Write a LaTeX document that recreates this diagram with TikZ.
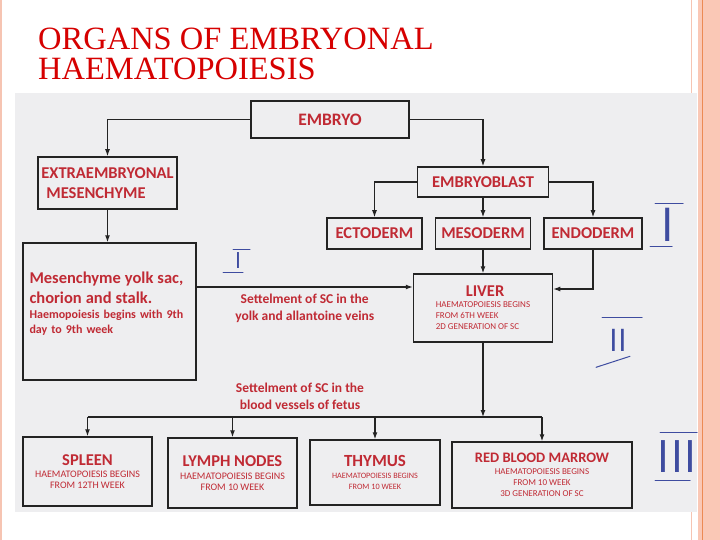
\documentclass[tikz,border=0pt]{standalone}
\usepackage{fontspec}
\setmainfont{Carlito}
\newfontfamily\slidefont{Liberation Serif}
\usetikzlibrary{positioning, calc, arrows.meta}

\definecolor{scanred}{RGB}{192,42,52}
\definecolor{titlered}{RGB}{214,0,0}
\definecolor{inkblue}{RGB}{62,76,160}
\definecolor{scangray}{RGB}{238,238,240}
\definecolor{framepink}{RGB}{246,196,178}
\definecolor{bandpink}{RGB}{250,200,182}
\definecolor{bandorange}{RGB}{236,138,84}
\definecolor{linegray}{RGB}{35,35,35}

\newcommand{\organfont}{\fontsize{16.5}{20}\selectfont\bfseries}
\newcommand{\notefont}{\fontsize{9}{11}\selectfont}
\newcommand{\remarkfont}{\fontsize{13.5}{17.5}\selectfont\bfseries}
\newcommand{\stalkfont}{\fontsize{12}{15}\selectfont\bfseries}
\newcommand{\numeralfont}[1]{\sffamily\fontsize{#1}{#1}\selectfont}

\begin{document}
\begin{tikzpicture}[
    x=1pt, y=-1pt,
    organ/.style={
        rectangle, draw=linegray, line width=1.5pt,
        inner sep=3pt, text=scanred, font=\organfont
    },
    flow/.style={draw=linegray, line width=1.2pt, -{Latex[length=7pt, width=5pt]}},
    branch/.style={draw=linegray, line width=1.2pt},
    remark/.style={text=scanred, align=center, font=\remarkfont},
    numeral/.style={text=inkblue, inner sep=0pt},
    bar/.style={draw=inkblue, line width=1pt, line cap=round}
]

% 0. Slide frame and the scanned sheet
\useasboundingbox (0,0) rectangle (720,540);
\fill[white] (0,0) rectangle (720,540);
\draw[framepink, line width=2pt] (1,0) -- (1,540);
\draw[framepink, line width=1pt] (691,0) -- (691,540);
\fill[bandpink] (698,0) rectangle (720,540);
\draw[bandorange, line width=1pt] (702,0) -- (702,540);
\fill[scangray] (15,93) rectangle (697,512);

% 1. Title
\node[anchor=base west, inner sep=0pt, align=left, text=titlered,
      font=\slidefont\fontsize{32.5}{30}\selectfont] (title) at (38,80)
    {ORGANS OF EMBRYONAL\\HAEMATOPOIESIS};

% 2. Embryo and its two branches
\node[organ, minimum width=158pt, minimum height=37pt,
      font=\organfont\fontsize{17.5}{20}\selectfont] (embryo) at (330,119.5) {EMBRYO};
\node[organ, minimum width=139pt, minimum height=52pt, align=left] (extra) at (107.5,183)
    {EXTRAEMBRYONAL\\\hspace*{5pt}MESENCHYME};
\node[organ, minimum width=131pt, minimum height=30pt] (embryoblast) at (483,182) {EMBRYOBLAST};

% 3. Germ layers (placed beside the mesoderm)
\node[organ, minimum width=95pt, minimum height=31pt] (mesoderm) at (483,233.5) {MESODERM};
\node[organ, minimum width=95pt, minimum height=31pt, left=12pt of mesoderm] (ectoderm) {ECTODERM};
\node[organ, minimum width=98pt, minimum height=31pt, right=12pt of mesoderm] (endoderm) {ENDODERM};

% 4. First and second period
\node[organ, minimum width=173pt, minimum height=137pt, text width=160pt, align=left,
      font=\stalkfont] (yolksac) at (109.5,311.5)
    {{\organfont Mesenchyme yolk sac,\\chorion and stalk.\par}Haemopoiesis begins with 9th\\day to 9th week\par\vspace*{16pt}};
\node[organ, minimum width=139pt, minimum height=68pt, align=left, font=\notefont] (liver) at (483,308)
    {\hspace*{30pt}{\organfont LIVER}\\HAEMATOPOIESIS BEGINS\\FROM 6TH WEEK\\2D GENERATION OF SC};

% 5. Third period
\node[organ, minimum width=129pt, minimum height=69pt, align=center,
      font=\fontsize{10}{11}\selectfont] (spleen) at (87.5,471.5)
    {{\organfont SPLEEN}\\[1.5pt]HAEMATOPOIESIS BEGINS\\FROM 12TH WEEK};
\node[organ, minimum width=129pt, minimum height=70pt, align=center,
      font=\fontsize{10}{11}\selectfont] (lymph) at (232.5,473)
    {{\organfont LYMPH NODES}\\[1.5pt]HAEMATOPOIESIS BEGINS\\FROM 10 WEEK};
\node[organ, minimum width=130pt, minimum height=65pt, align=center,
      font=\fontsize{8.2}{11}\selectfont] (thymus) at (375,472.5)
    {{\organfont\fontsize{17}{20}\selectfont THYMUS}\\[1.5pt]HAEMATOPOIESIS BEGINS\\FROM 10 WEEK};
\node[organ, minimum width=180pt, minimum height=66pt, align=center, font=\notefont] (marrow) at (542,475)
    {{\organfont\fontsize{14.5}{18}\selectfont RED BLOOD MARROW}\\[1.5pt]HAEMATOPOIESIS BEGINS\\FROM 10 WEEK\\3D GENERATION OF SC};

% 6. Connectors
\draw[flow] (embryo.west) -| (extra.north);
\draw[flow] (embryo.east) -| (embryoblast.north);
\draw[flow] (extra.south) -- (extra.south |- yolksac.north);
\draw[flow] (embryoblast.west) -| (ectoderm.north);
\draw[flow] (embryoblast.south) -- (mesoderm.north);
\draw[flow] (embryoblast.east) -| (endoderm.north);
\draw[flow] ([yshift=24.5pt]yolksac.east) -- node[remark, below=3pt] (veins)
    {Settelment of SC in the\\yolk and allantoine veins} ([yshift=21pt]liver.west);
\draw[flow] (mesoderm.south) -- (liver.north);
\draw[flow] (endoderm.south) |- ([yshift=19pt]liver.east);

\coordinate (fetal) at (483,417);
\draw[flow] (liver.south) -- (fetal);
\draw[branch] (spleen.north |- fetal) -- (marrow.north |- fetal);
\foreach \organ in {spleen, lymph, thymus, marrow}
    \draw[flow] (\organ.north |- fetal) -- (\organ.north);
\node[remark] (fetus) at (300,396.5) {Settelment of SC in the\\blood vessels of fetus};

% 7. Handwritten period marks
\node[numeral, font=\numeralfont{23}] (first) at (238,261) {I};
\draw[bar] ($(first.north)+(-5,-3)$) -- ++(17,0);
\draw[bar] ($(first.south)+(-15,3)$) -- ++(20,0);
\node[numeral, font=\numeralfont{48}] (second) at (668,225) {I};
\draw[bar] ($(second.north)+(-13,-5)$) -- ++(28,0);
\draw[bar] ($(second.south)+(-18,4.5)$) -- ++(22,0);
\node[numeral, font=\numeralfont{32}] (third) at (618,340) {II};
\draw[bar] ($(third.north)+(-16,-11)$) -- ++(40,0);
\draw[bar] ($(third.south)+(-22,16)$) -- ++(34,-11);
\node[numeral, font=\numeralfont{46}] (fourth) at (677,457) {III};
\draw[bar] ($(fourth.north)+(-17,-8)$) -- ++(37,0);
\draw[bar] ($(fourth.south)+(-22,7)$) -- ++(35,0);

\end{tikzpicture}
\end{document}
